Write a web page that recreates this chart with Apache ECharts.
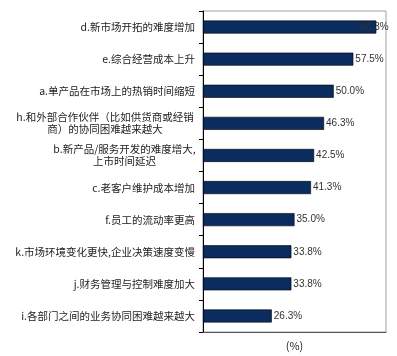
<!DOCTYPE html>
<html><head><meta charset="utf-8">
<script src="https://cdn.jsdelivr.net/npm/echarts@6/dist/echarts.min.js"></script>
<style>html,body{margin:0;padding:0;background:#fff}#c{width:397px;height:356px}</style>
</head><body><div id="c"></div>
<script>
const categories = [
  "d.新市场开拓的难度增加",
  "e.综合经营成本上升",
  "a.单产品在市场上的热销时间缩短",
  "h.和外部合作伙伴（比如供货商或经销\n商）的协同困难越来越大",
  "b.新产品/服务开发的难度增大,\n上市时间延迟",
  "c.老客户维护成本增加",
  "f.员工的流动率更高",
  "k.市场环境变化更快,企业决策速度变慢",
  "j.财务管理与控制难度加大",
  "i.各部门之间的业务协同困难越来越大"
];
const values = [66.3, 57.5, 50.0, 46.3, 42.5, 41.3, 35.0, 33.8, 33.8, 26.3];
const axisName = "(%)";

const font = "'Noto Sans CJK SC', sans-serif";
const chart = echarts.init(document.getElementById('c'), null, {renderer: 'canvas'});
const seriesData = values.map((v, i) => i === 0
  ? {value: v, label: {offset: [-18, 0]}}
  : v);
chart.setOption({
  animation: false,
  grid: {left: 203, top: 11, right: 11, bottom: 19, show: true, borderColor: '#a0a0a0', borderWidth: 1, containLabel: false},
  xAxis: {
    type: 'value', min: 0, max: 70,
    axisLabel: {show: false}, axisTick: {show: false}, splitLine: {show: false},
    axisLine: {show: true, lineStyle: {color: '#555', width: 1}},
    name: axisName, nameLocation: 'middle', nameGap: 8,
    nameTextStyle: {fontFamily: font, fontSize: 11, color: '#222'}
  },
  yAxis: {
    type: 'category', data: categories, inverse: true,
    axisLine: {show: true, lineStyle: {color: '#000', width: 1}},
    axisTick: {show: true, length: 4, inside: false, lineStyle: {color: '#000'}},
    axisLabel: {
      margin: 8, fontFamily: font, fontSize: 10.5, color: '#222', lineHeight: 12,
      formatter: function (v) {
        if (v.indexOf('\n') < 0) return v;
        const key = v.charAt(0) === 'h' ? 'h' : 'b';
        return v.split('\n').map(s => '{' + key + '|' + s + '}').join('\n');
      },
      rich: {
        h: {width: 180, align: 'center', fontFamily: font, fontSize: 10.5, color: '#222', lineHeight: 12},
        b: {width: 141, align: 'center', fontFamily: font, fontSize: 10.5, color: '#222', lineHeight: 12}
      }
    }
  },
  series: [{
    type: 'bar', data: seriesData, barWidth: 13,
    itemStyle: {color: '#0b2c5e', borderColor: '#000', borderWidth: 0.6},
    label: {show: true, position: 'right', distance: 2, fontFamily: 'Liberation Sans, Arial, sans-serif', fontSize: 10, color: '#333',
      formatter: p => p.value.toFixed(1) + '%'}
  }]
});
</script></body></html>
